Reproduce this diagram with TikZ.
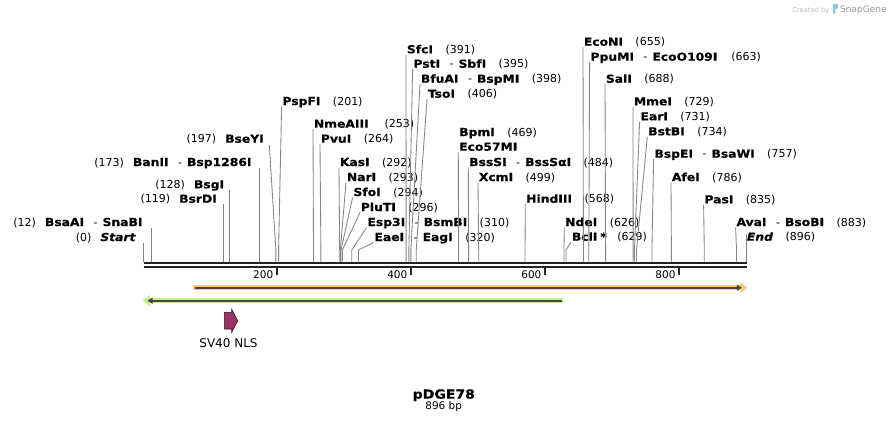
\documentclass[tikz,border=0pt]{standalone}
\usepackage{fontspec}
\setmainfont{DejaVu Sans}[BoldFeatures={FakeStretch=1.12,FakeBold=0.6},BoldItalicFeatures={FakeStretch=1.12,FakeBold=0.6}]
\usetikzlibrary{arrows.meta,calc}
\definecolor{siteC}{HTML}{858585}
\definecolor{bbC}{HTML}{222222}
\definecolor{orangeL}{HTML}{FAC878}
\definecolor{greenL}{HTML}{BEF08C}
\definecolor{darkL}{HTML}{464640}
\definecolor{nlsC}{HTML}{993366}
\definecolor{nlsD}{HTML}{3D1428}
\definecolor{sgGray}{HTML}{BBBBBB}
\definecolor{sgDark}{HTML}{9A9A9A}
\definecolor{sgBlue}{HTML}{80C8EE}
\newcommand\nm[1]{\textbf{#1}}
\newcommand\dsh{\hspace{9.5pt}-\hspace{5pt}}
\newcommand\rg{\hspace{12.5pt}}
\newcommand\lgp{\hspace{9pt}}
\newcommand\bpx[1]{143.6+0.6715*#1}
\tikzset{
  lbl/.style={inner sep=0pt, font=\fontsize{11}{13}\selectfont, text=black},
  siteline/.style={draw=siteC, line width=0.85pt},
  tick/.style={draw=bbC, line width=1.8pt},
  ticklbl/.style={inner sep=0pt, anchor=base east, font=\fontsize{10.5}{12}\selectfont},
}
% right-hand label: id, left x, baseline, bp, text
\newcommand\RL[5]{%
  \node[lbl, anchor=base west] (#1) at (#2,#3) {#5};
  \coordinate (#1-s) at ({\bpx{#4}},261.5);
  \draw[siteline] ($(#1.base west)+(-0.7,1.5)$) -- ({\bpx{#4}},250) -- (#1-s);
}
% left-hand label: id, right x, baseline, bp, text, top y of line
\newcommand\LL[6]{%
  \node[lbl, anchor=base east] (#1) at (#2,#3) {#5};
  \coordinate (#1-s) at ({\bpx{#4}},261.5);
  \coordinate (#1-t) at ({\bpx{#4}},#6);
  \draw[siteline] (#1-t) -- (#1-s);
}
\begin{document}
\begin{tikzpicture}[x=1pt,y=-1pt]
\useasboundingbox (0,0) rectangle (890,424);
\fill[white] (0,0) rectangle (890,424);

% SnapGene credit
\node[inner sep=0pt, anchor=base east, text=sgGray, font=\fontsize{6.7}{8}\selectfont] (cred) at (829.5,12) {Created by};
\fill[sgBlue, rounded corners=1pt] (832.8,3.8) rectangle (835.3,14);
\fill[sgBlue, rounded corners=1.2pt] (834.5,3.8) rectangle (838,8.8);
\node[inner sep=0pt, anchor=base west, text=sgDark, font=\fontsize{9}{10}\selectfont] (sg) at (840,12) {SnapGene};

% left labels
\LL{start}{136}{241}{0}{(0)\lgp\textbf{\textit{Start}}}{242.7}
\LL{bsaai}{142.7}{226}{12}{(12)\lgp\nm{BsaAI}\dsh\nm{SnaBI}}{228.3}
\LL{bsrdi}{217}{202.7}{119}{(119)\lgp\nm{BsrDI}}{204}
\LL{bsgi}{224.3}{188.3}{128}{(128)\lgp\nm{BsgI}}{190}
\LL{banii}{251.7}{166}{173}{(173)\lgp\nm{BanII}\dsh\nm{Bsp1286I}}{168}
\node[lbl, anchor=base east] (bseyi) at (264,142.7) {(197)\lgp\nm{BseYI}};
\coordinate (bseyi-s) at ({\bpx{197}},261.5);
\draw[siteline] ($(bseyi.base east)+(5.3,2.3)$) -- ({\bpx{197}},250) -- (bseyi-s);

% right labels
\RL{pspfi}{282.3}{105}{201}{\nm{PspFI}\rg(201)}
\RL{nmeaiii}{313.7}{127.7}{253}{\nm{NmeAIII}\hspace{16pt}(253)}
\RL{pvui}{320.7}{142.7}{264}{\nm{PvuI}\rg(264)}
\RL{kasi}{339.7}{166}{292}{\nm{KasI}\rg(292)}
\RL{nari}{346.7}{181}{293}{\nm{NarI}\rg(293)}
\RL{sfoi}{353.3}{196}{294}{\nm{SfoI}\rg(294)}
\RL{pluti}{360.7}{211}{296}{\nm{PluTI}\rg(296)}
\RL{esp3i}{367.3}{226}{310}{\nm{Esp3I}\dsh\nm{BsmBI}\rg(310)}
\RL{eaei}{374.3}{241}{320}{\nm{EaeI}\dsh\nm{EagI}\rg(320)}
\RL{sfci}{406.7}{53.3}{391}{\nm{SfcI}\rg(391)}
\RL{psti}{413.3}{67.7}{395}{\nm{PstI}\dsh\nm{SbfI}\rg(395)}
\RL{bfuai}{420.7}{82.7}{398}{\nm{BfuAI}\dsh\nm{BspMI}\rg(398)}
\RL{tsoi}{427.7}{97.7}{406}{\nm{TsoI}\rg(406)}
\node[lbl, anchor=base west] (bpmi) at (459,136) {\nm{BpmI}\rg(469)};
\RL{eco57mi}{459}{150.7}{469}{\nm{Eco57MI}}
\RL{bsssi}{469}{166}{484}{\nm{BssSI}\dsh\nm{BssSαI}\rg(484)}
\RL{xcmi}{478.7}{181}{499}{\nm{XcmI}\rg(499)}
\RL{hindiii}{526}{202.7}{568}{\nm{HindIII}\rg(568)}
\RL{ndei}{565}{226}{626}{\nm{NdeI}\rg(626)}
\RL{bcli}{571.7}{240.7}{629}{\nm{BclI}\hspace{3pt}\nm{*}\hspace{10.5pt}(629)}
\RL{econi}{583.7}{45.7}{655}{\nm{EcoNI}\rg(655)}
\RL{ppumi}{590.3}{60.7}{663}{\nm{PpuMI}\dsh\nm{EcoO109I}\hspace{14pt}(663)}
\RL{sali}{605.7}{82.7}{688}{\nm{SalI}\rg(688)}
\RL{mmei}{633.7}{105.3}{729}{\nm{MmeI}\rg(729)}
\RL{eari}{640.3}{120.3}{731}{\nm{EarI}\rg(731)}
\RL{bstbi}{648}{135.3}{734}{\nm{BstBI}\rg(734)}
\RL{bspei}{654.3}{157.7}{757}{\nm{BspEI}\dsh\nm{BsaWI}\rg(757)}
\RL{afei}{671.7}{181}{786}{\nm{AfeI}\rg(786)}
\RL{pasi}{704.3}{203.3}{835}{\nm{PasI}\rg(835)}
\RL{avai}{736.3}{226}{883}{\nm{AvaI}\dsh\nm{BsoBI}\rg(883)}
\node[lbl, anchor=base west] (end) at (746.7,240.7) {\textbf{\textit{End}}\rg(896)};
\coordinate (end-t) at (746,234);
\coordinate (end-s) at (746,261.5);
\draw[siteline] (end-t) -- (end-s);

% backbone
\coordinate (bbL) at (143.5,262.6);
\coordinate (bbR) at (746.5,262.6);
\draw[bbC, line width=2.2pt] (bbL) -- (bbR);
\draw[bbC, line width=2pt] (143.5,266.7) -- (746.5,266.7);

% ruler
\foreach \v/\xx in {200/276.8,400/410.9,600/545,800/679.1}{
  \draw[tick] (\xx,267) -- (\xx,274.5);
  \node[ticklbl] at (\xx-3.4,278.3) {\v};
}

% orange feature (forward)
\coordinate (orA) at (193.3,287.7);
\coordinate (orB) at (747.5,287.7);
\draw[orangeL, line width=5.5pt, -{Triangle[length=7pt,width=11pt]}] (orA) -- (orB);
\draw[darkL, line width=1.8pt, -{Triangle[length=5pt,width=6pt]}] (195.2,287.7) -- (741.8,287.7);

% green feature (reverse)
\coordinate (grA) at (563.3,300.7);
\coordinate (grB) at (142.8,300.7);
\draw[greenL, line width=5.5pt, -{Triangle[length=7pt,width=11pt]}] (grA) -- (grB);
\draw[darkL, line width=1.8pt, -{Triangle[length=5pt,width=6pt]}] (561.6,300.7) -- (147.5,300.7);

% SV40 NLS
\draw[fill=nlsC, draw=nlsD, line width=0.6pt] (224.3,312.3) -- (231.7,312.3) -- (231.7,309.3) -- (237.7,320.7) -- (231.7,332.3) -- (231.7,329) -- (224.3,329) -- cycle;
\node[inner sep=0pt, anchor=base, font=\fontsize{12}{14}\selectfont] (nls) at (228.5,347.3) {SV40 NLS};

% title
\node[inner sep=0pt, anchor=base, font=\bfseries\fontsize{12.5}{15}\selectfont] (title) at (443.8,398.6) {pDGE78};
\node[inner sep=0pt, anchor=base, font=\fontsize{10.5}{12}\selectfont] (len) at (443.7,409.3) {896 bp};
\end{tikzpicture}
\end{document}
